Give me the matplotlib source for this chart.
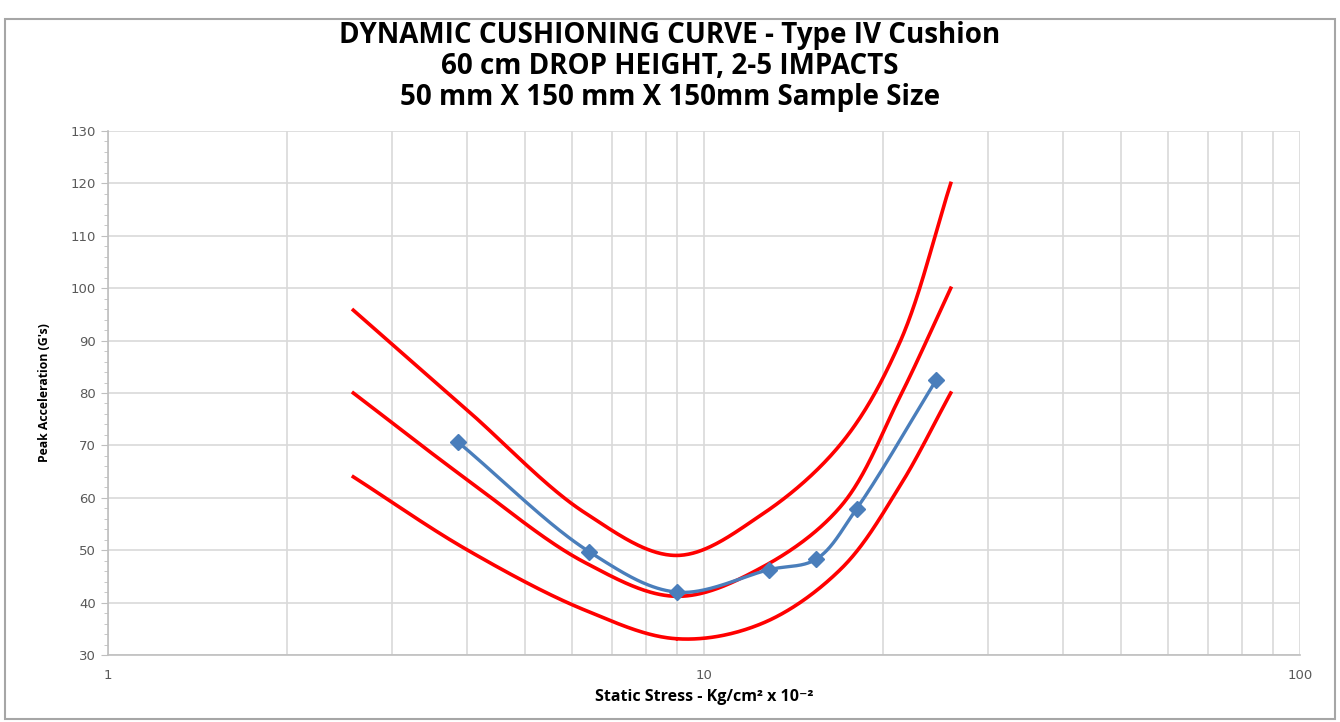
import numpy as np
import matplotlib
matplotlib.use("Agg")
import matplotlib.pyplot as plt
from matplotlib.ticker import FixedLocator, NullFormatter, MultipleLocator

# measured test points (static stress, peak G)
test_x = [3.87, 6.42, 9.0, 12.87, 15.43, 18.03, 24.5]
test_y = [70.6, 49.7, 42.0, 46.3, 48.3, 57.9, 82.4]

# red reference curves
curve_x = [2.58, 4, 6.3, 9, 12.5, 17, 21.3, 25.94]
upper_y = [95.8, 76.8, 57.2, 49.0, 56.8, 70.4, 89.6, 120.0]
middle_y = [80.0, 63.5, 47.7, 41.2, 46.7, 58.5, 79.2, 100.0]
lower_y = [64.0, 50.1, 38.6, 33.1, 36.0, 46.5, 62.2, 80.0]


def smooth(xs, ys, n=60, alpha=0.5):
    # centripetal catmull-rom in screen-like units (log x), similar to excel's smoothed line
    P = np.column_stack([596 * np.log10(np.asarray(xs, float)), 5.24 * np.asarray(ys, float)])
    P = np.vstack([2 * P[0] - P[1], P, 2 * P[-1] - P[-2]])
    out = []
    for i in range(1, len(P) - 2):
        p0, p1, p2, p3 = P[i - 1], P[i], P[i + 1], P[i + 2]
        t0 = 0.0
        t1 = t0 + np.linalg.norm(p1 - p0) ** alpha
        t2 = t1 + np.linalg.norm(p2 - p1) ** alpha
        t3 = t2 + np.linalg.norm(p3 - p2) ** alpha
        t = np.linspace(t1, t2, n)[:, None]
        a1 = (t1 - t) / (t1 - t0) * p0 + (t - t0) / (t1 - t0) * p1
        a2 = (t2 - t) / (t2 - t1) * p1 + (t - t1) / (t2 - t1) * p2
        a3 = (t3 - t) / (t3 - t2) * p2 + (t - t2) / (t3 - t2) * p3
        b1 = (t2 - t) / (t2 - t0) * a1 + (t - t0) / (t2 - t0) * a2
        b2 = (t3 - t) / (t3 - t1) * a2 + (t - t1) / (t3 - t1) * a3
        out.append((t2 - t) / (t2 - t1) * b1 + (t - t1) / (t2 - t1) * b2)
    out = np.vstack(out)
    return 10 ** (out[:, 0] / 596), out[:, 1] / 5.24


plt.rcParams['font.family'] = ['Open Sans', 'DejaVu Sans']

fig = plt.figure(figsize=(13.4, 7.22), dpi=100)
ax = fig.add_axes([108 / 1340, 1 - 655 / 722, 1192 / 1340, 524 / 722])

for ys in (upper_y, middle_y, lower_y):
    sx, sy = smooth(curve_x, ys)
    ax.plot(sx, sy, color='#FF0000', lw=2.6, zorder=3)

bx, by = smooth(test_x, test_y)
ax.plot(bx, by, color='#4A7EBB', lw=2.4, zorder=4)
ax.plot(test_x, test_y, ls='none', marker='D', ms=8, color='#4A7EBB', zorder=5)

ax.set_xscale('log')
ax.set_xlim(1, 100)
ax.set_ylim(30, 130)
ax.xaxis.set_major_locator(FixedLocator([1, 10, 100]))
ax.xaxis.set_minor_locator(FixedLocator([k * d for d in (1, 10) for k in range(2, 10)]))
ax.xaxis.set_minor_formatter(NullFormatter())
ax.set_xticklabels(['1', '10', '100'])
ax.yaxis.set_major_locator(MultipleLocator(10))
ax.yaxis.set_minor_locator(MultipleLocator(2))

ax.grid(True, which='both', axis='x', color='#D9D9D9', lw=1.2)
ax.grid(True, which='major', axis='y', color='#D9D9D9', lw=1.2)
ax.set_axisbelow(True)
for s in ('top', 'right'):
    ax.spines[s].set_visible(False)
for s in ('left', 'bottom'):
    ax.spines[s].set_color('#BFBFBF')
    ax.spines[s].set_linewidth(1.2)
ax.tick_params(which='major', length=5, color='#BFBFBF', labelcolor='#595959')
ax.tick_params(which='minor', length=3, color='#BFBFBF')
ax.tick_params(axis='x', which='both', length=0, pad=10)
for lab in ax.get_yticklabels() + ax.get_xticklabels():
    lab.set_family('DejaVu Sans')
    lab.set_fontsize(9.5)

ax.set_xlabel('Static Stress - Kg/cm² x 10⁻²', fontsize=11.5, fontweight='bold', labelpad=5)
ax.set_ylabel("Peak Acceleration (G's)", fontsize=8.8, fontweight='bold', labelpad=14)

titles = ['DYNAMIC CUSHIONING CURVE - Type IV Cushion',
          '60 cm DROP HEIGHT, 2-5 IMPACTS',
          '50 mm X 150 mm X 150mm Sample Size']
for i, t in enumerate(titles):
    fig.text(0.5, 1 - (35 + 31.5 * i) / 722, t, ha='center', va='center', fontsize=20, fontweight='bold')

# thin frame around the chart area
fig.patches.append(plt.Rectangle((0.004, 0.004), 0.992, 0.97, transform=fig.transFigure,
                                 fill=False, edgecolor='#A6A6A6', lw=1.5))

fig.savefig('out.png', dpi=100)
